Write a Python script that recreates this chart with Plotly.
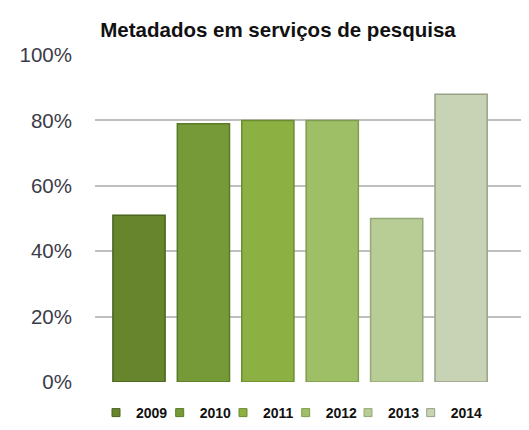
import plotly.graph_objects as go

years = ["2009", "2010", "2011", "2012", "2013", "2014"]
values = [0.51, 0.79, 0.80, 0.80, 0.50, 0.88]
fill_colors = ["#67852d", "#769a37", "#8cb042", "#9fbf66", "#b7cd95", "#c7d3b4"]
line_colors = ["#4a6420", "#5a7a28", "#6c8c30", "#7f9c50", "#95a878", "#98a288"]
title_text = "Metadados em serviços de pesquisa"
tick_vals = [0, 0.2, 0.4, 0.6, 0.8, 1.0]
tick_text = ["0%", "20%", "40%", "60%", "80%", "100%"]

# page body adds an 8px offset; figure coordinates below compensate for it
legend_ids = ["legend"] + ["legend%d" % (k + 2) for k in range(len(years) - 1)]
legend_x_px = [88, 151.7, 215, 277.7, 340, 402.7]

fig = go.Figure()
for i, (yr, v) in enumerate(zip(years, values)):
    fig.add_trace(go.Bar(
        x=[i], y=[v], name=yr, width=0.81, legendgroup=yr,
        marker=dict(color=fill_colors[i], line=dict(color=line_colors[i], width=1.5)),
        showlegend=False,
    ))
for i, yr in enumerate(years):
    fig.add_trace(go.Scatter(
        x=[None], y=[None], mode="markers", name=yr, legendgroup=yr,
        legend=legend_ids[i],
        marker=dict(symbol="square", size=8, color=fill_colors[i],
                    line=dict(color=line_colors[i], width=1)),
        showlegend=True,
    ))

legend_font = dict(size=14, color="#111111", family="Liberation Sans, Arial, sans-serif",
                   weight="bold")
legends = {}
for i, lid in enumerate(legend_ids):
    legends[lid] = dict(orientation="h", x=legend_x_px[i] / 529, xref="container",
                        xanchor="left", y=1 - 405 / 430, yref="container", yanchor="middle",
                        font=legend_font, itemwidth=30, bgcolor="rgba(0,0,0,0)")

fig.update_layout(
    width=529, height=430,
    margin=dict(l=87, r=16, t=47, b=56, autoexpand=False),
    paper_bgcolor="white", plot_bgcolor="white",
    barmode="overlay",
    font=dict(family="Liberation Sans, Arial, sans-serif", color="#3a3a3a"),
    title=dict(text="<b>" + title_text + "</b>", x=270 / 529, xref="container", xanchor="center",
               y=1 - 22 / 430, yref="container", yanchor="middle",
               font=dict(size=20.5, color="#111111", family="Liberation Sans, Arial, sans-serif")),
    xaxis=dict(range=[-0.683, 5.93], showticklabels=False, showgrid=False, zeroline=False,
               showline=False, fixedrange=True, automargin=False),
    yaxis=dict(range=[0, 1.0], tickvals=tick_vals, ticktext=tick_text,
               showgrid=True, gridcolor="#c0c0c0", gridwidth=1.6, zeroline=False,
               showline=False, ticks="", ticklabelstandoff=22, automargin=False,
               tickfont=dict(size=20.5, color="#3c3c48",
                             family="Liberation Sans, Arial, sans-serif")),
    **legends,
)

fig.write_html("out.html")
